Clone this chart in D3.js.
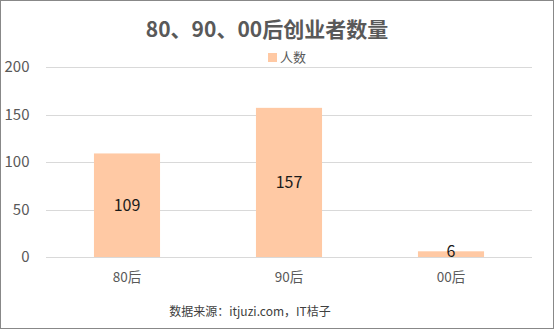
<!DOCTYPE html>
<html>
<head>
<meta charset="utf-8">
<script src="https://cdn.jsdelivr.net/npm/d3@7"></script>
<style>
  html, body { margin: 0; padding: 0; background: #fff; }
  svg { display: block; }
  text { font-family: "Microsoft YaHei", "Noto Sans CJK SC", "Noto Sans", sans-serif; }
</style>
</head>
<body>
<svg id="chart" width="554" height="330"></svg>
<script>
const title = "80、90、00后创业者数量";
const seriesName = "人数";
const categories = ["80后", "90后", "00后"];
const values = [109, 157, 6];
const yTicks = [0, 50, 100, 150, 200];
const source = "数据来源：itjuzi.com，IT桔子";

const W = 554, H = 330;
const svg = d3.select("#chart");

// border
svg.append("rect")
  .attr("x", 0.5).attr("y", 0.5)
  .attr("width", W - 1).attr("height", 328)
  .attr("fill", "#fff").attr("stroke", "#888").attr("stroke-width", 1);

const plot = { left: 46, right: 532, top: 67, bottom: 257 };

const x = d3.scaleBand()
  .domain(categories)
  .range([plot.left, plot.right])
  .paddingInner(0.592)
  .paddingOuter(0.296);

const y = d3.scaleLinear()
  .domain([0, 200])
  .range([plot.bottom, plot.top]);

// gridlines
svg.append("g")
  .selectAll("line")
  .data(yTicks)
  .join("line")
  .attr("x1", plot.left).attr("x2", plot.right)
  .attr("y1", d => Math.round(y(d)) + 0.5)
  .attr("y2", d => Math.round(y(d)) + 0.5)
  .attr("stroke", "#d9d9d9").attr("stroke-width", 1);

// y axis
const yAxis = d3.axisLeft(y).tickValues(yTicks).tickSize(0).tickPadding(0);
const yg = svg.append("g")
  .attr("transform", `translate(${29.5},0)`)
  .call(yAxis);
yg.select(".domain").remove();
yg.selectAll("text")
  .attr("fill", "#595959")
  .style("font-size", "15px")
  .attr("font-family", null);

// bars
svg.append("g")
  .selectAll("rect")
  .data(values)
  .join("rect")
  .attr("x", (d, i) => x(categories[i]))
  .attr("width", x.bandwidth())
  .attr("y", d => y(d))
  .attr("height", d => y(0) - y(d))
  .attr("fill", "#FFC9A4");

// data labels
svg.append("g")
  .selectAll("text")
  .data(values)
  .join("text")
  .attr("x", (d, i) => x(categories[i]) + x.bandwidth() / 2)
  .attr("y", d => Math.min((y(d) + y(0)) / 2, y(0) - 6))
  .attr("dy", "0.35em")
  .attr("text-anchor", "middle")
  .attr("fill", "#1a1a1a")
  .style("font-size", "16px")
  .text(d => d);

// x axis
const xAxis = d3.axisBottom(x).tickSize(0).tickPadding(0);
const xg = svg.append("g")
  .attr("transform", `translate(0,${272})`)
  .call(xAxis);
xg.select(".domain").remove();
xg.selectAll("text")
  .attr("fill", "#595959")
  .style("font-size", "13.5px")
  .attr("font-family", null);

// title
svg.append("text")
  .attr("x", 267).attr("y", 37)
  .attr("text-anchor", "middle")
  .attr("fill", "#595959")
  .style("font-size", "21px")
  .style("font-weight", "bold")
  .text(title);

// legend
svg.append("rect")
  .attr("x", 268).attr("y", 53)
  .attr("width", 9).attr("height", 9)
  .attr("fill", "#FFC9A4");
svg.append("text")
  .attr("x", 280).attr("y", 62)
  .attr("fill", "#595959")
  .style("font-size", "13px")
  .text(seriesName);

// source
svg.append("text")
  .attr("x", 250).attr("y", 316)
  .attr("text-anchor", "middle")
  .attr("fill", "#404040")
  .style("font-size", "12px")
  .text(source);
</script>
</body>
</html>
